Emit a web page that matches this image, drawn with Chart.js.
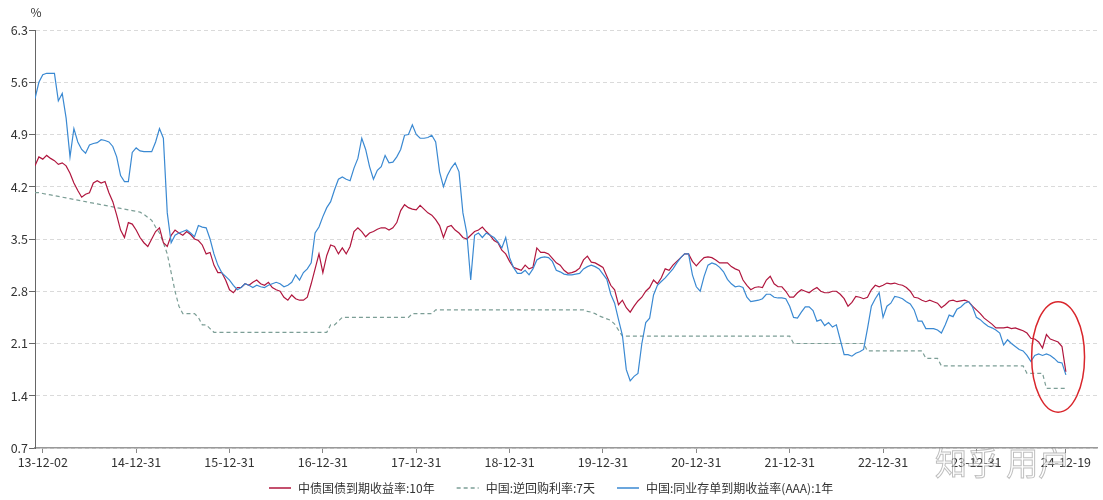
<!DOCTYPE html>
<html>
<head>
<meta charset="utf-8">
<script src="https://cdn.jsdelivr.net/npm/chart.js@4.4.1/dist/chart.umd.min.js"></script>
<style>
    html, body { margin: 0; padding: 0; background: #fff; }
</style>
</head>
<body>
<canvas id="yieldChart" width="1103" height="500"></canvas>
<script>
// semi-monthly samples, index 2 = 2014-01-01, one year = 24 steps
const tickPositions = [2, 26, 50, 74, 98, 122, 146, 170, 194, 218, 242, 265];
const tickLabels = ['13-12-02', '14-12-31', '15-12-31', '16-12-31', '17-12-31', '18-12-31',
    '19-12-31', '20-12-31', '21-12-31', '22-12-31', '23-12-31', '24-12-19'];
const yTicks = [0.7, 1.4, 2.1, 2.8, 3.5, 4.2, 4.9, 5.6, 6.3];
const seriesNames = ['中债国债到期收益率:10年', '中国:逆回购利率:7天', '中国:同业存单到期收益率(AAA):1年'];

const bond10y = [
    4.48, 4.6, 4.57, 4.62, 4.58, 4.55, 4.5, 4.52, 4.48, 4.38,
    4.25, 4.15, 4.06, 4.1, 4.12, 4.25, 4.28, 4.25, 4.27, 4.12,
    4.0, 3.82, 3.62, 3.52, 3.72, 3.7, 3.62, 3.52, 3.45, 3.4,
    3.5, 3.6, 3.65, 3.45, 3.4, 3.55, 3.62, 3.58, 3.55, 3.6,
    3.56, 3.5, 3.48, 3.42, 3.3, 3.32, 3.15, 3.05, 3.05, 2.95,
    2.82, 2.78, 2.85, 2.85, 2.9, 2.88, 2.92, 2.95, 2.9, 2.88,
    2.92, 2.85, 2.82, 2.8, 2.72, 2.68, 2.75, 2.7, 2.68, 2.68,
    2.72, 2.9, 3.1, 3.3, 3.05, 3.28, 3.42, 3.4, 3.3, 3.38,
    3.3, 3.4, 3.6, 3.65, 3.6, 3.53, 3.58, 3.6, 3.63, 3.65,
    3.65, 3.62, 3.65, 3.72, 3.88, 3.96, 3.92, 3.9, 3.89, 3.95,
    3.9, 3.85, 3.82, 3.76, 3.68, 3.52, 3.66, 3.68, 3.62, 3.58,
    3.52, 3.5, 3.55, 3.6, 3.62, 3.66, 3.6, 3.55, 3.48, 3.45,
    3.35, 3.3, 3.2, 3.12, 3.1, 3.08, 3.15, 3.1, 3.12, 3.38,
    3.32, 3.32, 3.3, 3.24, 3.18, 3.15, 3.08, 3.04, 3.05, 3.07,
    3.11, 3.22, 3.27, 3.19, 3.18, 3.15, 3.12, 3.0, 2.88, 2.82,
    2.62, 2.68, 2.58, 2.52, 2.6, 2.67, 2.72, 2.8, 2.85, 2.95,
    2.9, 2.98, 3.1, 3.08, 3.15, 3.2, 3.25, 3.3, 3.3, 3.2,
    3.14, 3.2, 3.25, 3.26, 3.25, 3.22, 3.18, 3.18, 3.18, 3.13,
    3.1, 3.08, 2.95, 2.88, 2.82, 2.85, 2.86, 2.85, 2.95, 3.0,
    2.9, 2.86, 2.86, 2.8, 2.72, 2.72, 2.78, 2.82, 2.8, 2.78,
    2.82, 2.85, 2.8, 2.78, 2.78, 2.8, 2.8, 2.76, 2.7, 2.6,
    2.65, 2.73, 2.72, 2.7, 2.72, 2.82, 2.88, 2.86, 2.88, 2.91,
    2.9, 2.91, 2.89, 2.88, 2.85, 2.8, 2.72, 2.71, 2.68, 2.66,
    2.68, 2.66, 2.64, 2.58, 2.62, 2.67, 2.68, 2.66, 2.67, 2.68,
    2.66, 2.6, 2.55, 2.5, 2.44, 2.4, 2.36, 2.31, 2.31, 2.31,
    2.32, 2.3, 2.31, 2.29, 2.27, 2.24, 2.17, 2.16, 2.12, 2.04,
    2.22, 2.16, 2.14, 2.12, 2.06, 1.72
];

const repo7d = [
    4.12, 4.12, 4.11, 4.1, 4.09, 4.08, 4.07, 4.06, 4.05, 4.04,
    4.03, 4.02, 4.01, 4.0, 3.99, 3.98, 3.97, 3.96, 3.95, 3.94,
    3.93, 3.92, 3.91, 3.9, 3.89, 3.88, 3.87, 3.86, 3.83, 3.79,
    3.75, 3.66, 3.58, 3.45, 3.3, 3.05, 2.8, 2.6, 2.5, 2.5,
    2.5, 2.5, 2.45, 2.35, 2.35, 2.3, 2.25, 2.25, 2.25, 2.25,
    2.25, 2.25, 2.25, 2.25, 2.25, 2.25, 2.25, 2.25, 2.25, 2.25,
    2.25, 2.25, 2.25, 2.25, 2.25, 2.25, 2.25, 2.25, 2.25, 2.25,
    2.25, 2.25, 2.25, 2.25, 2.25, 2.25, 2.35, 2.35, 2.4, 2.45,
    2.45, 2.45, 2.45, 2.45, 2.45, 2.45, 2.45, 2.45, 2.45, 2.45,
    2.45, 2.45, 2.45, 2.45, 2.45, 2.45, 2.45, 2.5, 2.5, 2.5,
    2.5, 2.5, 2.5, 2.55, 2.55, 2.55, 2.55, 2.55, 2.55, 2.55,
    2.55, 2.55, 2.55, 2.55, 2.55, 2.55, 2.55, 2.55, 2.55, 2.55,
    2.55, 2.55, 2.55, 2.55, 2.55, 2.55, 2.55, 2.55, 2.55, 2.55,
    2.55, 2.55, 2.55, 2.55, 2.55, 2.55, 2.55, 2.55, 2.55, 2.55,
    2.55, 2.55, 2.53, 2.52, 2.5, 2.47, 2.45, 2.43, 2.41, 2.36,
    2.28, 2.2, 2.2, 2.2, 2.2, 2.2, 2.2, 2.2, 2.2, 2.2,
    2.2, 2.2, 2.2, 2.2, 2.2, 2.2, 2.2, 2.2, 2.2, 2.2,
    2.2, 2.2, 2.2, 2.2, 2.2, 2.2, 2.2, 2.2, 2.2, 2.2,
    2.2, 2.2, 2.2, 2.2, 2.2, 2.2, 2.2, 2.2, 2.2, 2.2,
    2.2, 2.2, 2.2, 2.2, 2.2, 2.1, 2.1, 2.1, 2.1, 2.1,
    2.1, 2.1, 2.1, 2.1, 2.1, 2.1, 2.1, 2.1, 2.1, 2.1,
    2.1, 2.1, 2.1, 2.1, 2.0, 2.0, 2.0, 2.0, 2.0, 2.0,
    2.0, 2.0, 2.0, 2.0, 2.0, 2.0, 2.0, 2.0, 2.0, 1.9,
    1.9, 1.9, 1.9, 1.8, 1.8, 1.8, 1.8, 1.8, 1.8, 1.8,
    1.8, 1.8, 1.8, 1.8, 1.8, 1.8, 1.8, 1.8, 1.8, 1.8,
    1.8, 1.8, 1.8, 1.8, 1.8, 1.7, 1.7, 1.7, 1.7, 1.7,
    1.5, 1.5, 1.5, 1.5, 1.5, 1.5
];

const ncd1y = [
    5.38, 5.6, 5.7, 5.72, 5.72, 5.72, 5.35, 5.45, 5.12, 4.6,
    4.98, 4.8, 4.7, 4.65, 4.76, 4.78, 4.79, 4.83, 4.82, 4.8,
    4.74, 4.6, 4.35, 4.27, 4.27, 4.66, 4.72, 4.68, 4.67, 4.67,
    4.67, 4.8, 4.98, 4.85, 3.85, 3.45, 3.55, 3.58, 3.6, 3.62,
    3.58, 3.53, 3.68, 3.66, 3.65, 3.5, 3.3, 3.15, 3.05, 3.0,
    2.95, 2.88, 2.82, 2.85, 2.9, 2.88, 2.85, 2.88, 2.86, 2.85,
    2.88, 2.9, 2.92, 2.9, 2.86, 2.88, 2.92, 3.02, 2.95, 3.05,
    3.1, 3.18, 3.58, 3.66, 3.8, 3.92, 4.0, 4.16, 4.3, 4.33,
    4.3, 4.28, 4.45, 4.58, 4.85, 4.7, 4.47, 4.3, 4.42, 4.47,
    4.62, 4.52, 4.53, 4.6, 4.7, 4.89, 4.9, 5.03, 4.9, 4.85,
    4.85, 4.86, 4.89, 4.8, 4.4, 4.2, 4.35, 4.45, 4.52, 4.4,
    3.85, 3.58, 2.95, 3.55, 3.58, 3.52, 3.58, 3.55, 3.52, 3.46,
    3.38, 3.52, 3.25, 3.12, 3.04, 3.04, 3.08, 3.02, 3.1, 3.22,
    3.25, 3.26, 3.25, 3.2, 3.08, 3.06, 3.03, 3.02, 3.02, 3.03,
    3.04, 3.1, 3.13, 3.15, 3.13, 3.1, 3.03, 2.96, 2.76, 2.64,
    2.42, 2.21, 1.75, 1.6, 1.66, 1.7, 2.1, 2.38, 2.44, 2.75,
    2.88, 2.93, 2.98, 3.04, 3.1, 3.18, 3.25, 3.3, 3.3, 3.02,
    2.86, 2.8, 3.0, 3.15, 3.18, 3.16, 3.12, 3.06, 2.96, 2.9,
    2.86, 2.87, 2.85, 2.72, 2.66, 2.67, 2.68, 2.7, 2.76, 2.76,
    2.72, 2.71, 2.71, 2.7, 2.6, 2.45, 2.44, 2.52, 2.59, 2.59,
    2.54, 2.4, 2.42, 2.34, 2.38, 2.32, 2.35, 2.15, 1.95, 1.95,
    1.93, 1.97, 1.99, 2.02, 2.3, 2.6, 2.7, 2.78, 2.45, 2.6,
    2.64, 2.73, 2.72, 2.7, 2.66, 2.63, 2.55, 2.4, 2.4, 2.3,
    2.3, 2.3, 2.28, 2.24, 2.35, 2.48, 2.46, 2.56, 2.59, 2.64,
    2.66, 2.59, 2.45, 2.42, 2.37, 2.33, 2.31, 2.28, 2.24, 2.08,
    2.15, 2.1, 2.06, 2.02, 2.0, 1.94, 1.86, 1.94, 1.96, 1.94,
    1.96, 1.94, 1.9, 1.85, 1.84, 1.68
];

// red ring drawn round the last weeks (data units)
const ringNote = { x: 263, y: 1.92, rx: 6.8, ry: 0.74 };

const FONT = '"Noto Sans CJK SC", "Noto Sans", sans-serif';
const TEXT = '#333';

function toPoints(values) {
    return values.map((v, i) => ({ x: i, y: v }));
}

const extras = {
    id: 'extras',
    afterDraw(chart) {
        const ctx = chart.ctx;
        const xs = chart.scales.x;
        const ys = chart.scales.y;

        ctx.save();
        // unit label
        ctx.fillStyle = TEXT;
        ctx.font = '12px ' + FONT;
        ctx.textAlign = 'center';
        ctx.textBaseline = 'middle';
        ctx.fillText('%', chart.chartArea.left + 1, 12);

        // red ring
        const cx = xs.getPixelForValue(ringNote.x);
        const cy = ys.getPixelForValue(ringNote.y);
        const rx = xs.getPixelForValue(ringNote.x + ringNote.rx) - cx;
        const ry = cy - ys.getPixelForValue(ringNote.y + ringNote.ry);
        ctx.strokeStyle = '#d9262c';
        ctx.lineWidth = 1.5;
        ctx.beginPath();
        ctx.ellipse(cx, cy, rx, ry, 0, 0, Math.PI * 2);
        ctx.stroke();

        // legend, one row under the axis
        ctx.font = '12px ' + FONT;
        ctx.textAlign = 'left';
        const sample = 22, gapText = 7, gapItem = 22, legendY = 488;
        const sets = chart.data.datasets;
        const widths = sets.map(ds => sample + gapText + ctx.measureText(ds.label).width);
        const total = widths.reduce((a, b) => a + b, 0) + gapItem * (sets.length - 1);
        let lx = Math.round(chart.width / 2 - total / 2);
        sets.forEach((ds, i) => {
            ctx.strokeStyle = ds.borderColor;
            ctx.lineWidth = 1.5;
            ctx.setLineDash(ds.borderDash || []);
            ctx.beginPath();
            ctx.moveTo(lx, legendY);
            ctx.lineTo(lx + sample, legendY);
            ctx.stroke();
            ctx.setLineDash([]);
            ctx.fillStyle = TEXT;
            ctx.fillText(ds.label, lx + sample + gapText, legendY);
            lx += widths[i] + gapItem;
        });

        // watermark
        ctx.font = '32px ' + FONT;
        ctx.textBaseline = 'alphabetic';
        ctx.lineWidth = 1;
        ctx.strokeStyle = 'rgba(110, 110, 110, 0.45)';
        ctx.fillStyle = 'rgba(255, 255, 255, 0.65)';
        ctx.fillText('知乎 用户', 935, 475);
        ctx.strokeText('知乎 用户', 935, 475);
        ctx.restore();
    }
};

const ctx = document.getElementById('yieldChart').getContext('2d');

new Chart(ctx, {
    type: 'line',
    data: {
        datasets: [
            {
                label: seriesNames[0],
                data: toPoints(bond10y),
                borderColor: '#b0163e',
                borderWidth: 1.2,
                order: 1
            },
            {
                label: seriesNames[1],
                data: toPoints(repo7d),
                borderColor: '#7c9e96',
                borderWidth: 1.2,
                borderDash: [4, 3],
                order: 2
            },
            {
                label: seriesNames[2],
                data: toPoints(ncd1y),
                borderColor: '#3a89d2',
                borderWidth: 1.2,
                order: 0
            }
        ]
    },
    options: {
        responsive: false,
        devicePixelRatio: 1,
        animation: false,
        events: [],
        elements: {
            point: { radius: 0 },
            line: { tension: 0, fill: false }
        },
        layout: {
            padding: { top: 30, right: 6, bottom: 30, left: 0 }
        },
        scales: {
            x: {
                type: 'linear',
                min: 0,
                max: 273,
                afterBuildTicks: axis => {
                    axis.ticks = tickPositions.map(v => ({ value: v }));
                },
                afterFit: axis => { axis.height = 22; },
                ticks: {
                    autoSkip: false,
                    maxRotation: 0,
                    padding: 2,
                    color: TEXT,
                    font: { family: FONT, size: 12.5 },
                    callback: (value, index) => tickLabels[index]
                },
                grid: { drawOnChartArea: false, tickLength: 5, color: '#888' },
                border: { color: '#999', width: 1.5 }
            },
            y: {
                min: 0.7,
                max: 6.3,
                afterBuildTicks: axis => {
                    axis.ticks = yTicks.map(v => ({ value: v }));
                },
                afterFit: axis => { axis.width = 35; },
                ticks: {
                    padding: 1,
                    color: TEXT,
                    font: { family: FONT, size: 12.5 },
                    callback: value => value.toFixed(1)
                },
                grid: { color: '#dadada', tickColor: '#666', tickLength: 6, tickBorderDash: [] },
                border: { color: '#666', dash: [4, 3] }
            }
        },
        plugins: {
            tooltip: { enabled: false },
            legend: { display: false }
        }
    },
    plugins: [extras]
});
</script>
</body>
</html>
